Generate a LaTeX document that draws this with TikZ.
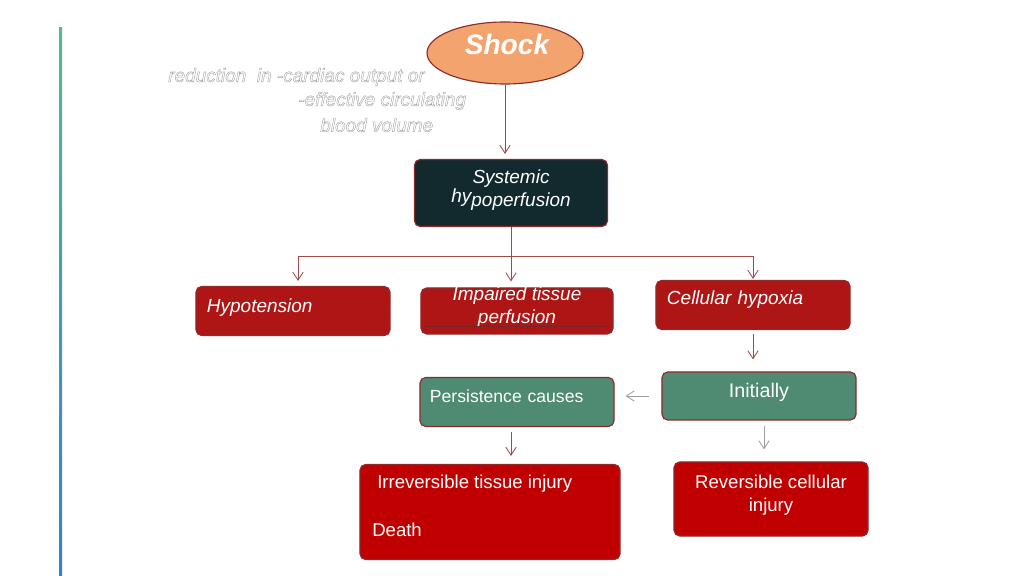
\documentclass[tikz,border=0pt]{standalone}
\usepackage{fontspec}
\setmainfont{Liberation Sans}
\usepackage{xcolor}
\usetikzlibrary{shapes.geometric, arrows.meta, positioning, calc}

\definecolor{shockorange}{HTML}{F3A36E}
\definecolor{boxedge}{HTML}{8E2A2A}
\definecolor{darkteal}{HTML}{122A2E}
\definecolor{toprow}{HTML}{AE1616}
\definecolor{deepred}{HTML}{C00000}
\definecolor{sage}{HTML}{4F8A72}
\definecolor{linkred}{HTML}{9E4A4A}
\definecolor{bargreen}{HTML}{52BC93}
\definecolor{barblue}{HTML}{3B7EC6}

\newcommand{\outlinetext}[1]{\special{pdf:literal direct 1 Tr 0.3 w 0.64 G}#1\special{pdf:literal direct 0 Tr}}

\begin{document}
\begin{tikzpicture}[
    x=0.025cm, y=-0.025cm,
    box/.style={rectangle, draw=boxedge, thick, rounded corners=4pt, text=white, inner sep=0pt},
    boxtext/.style={text=white, inner sep=0pt},
    itfont/.style={font=\fontsize{13.5}{16.3}\selectfont\itshape},
    upfont/.style={font=\fontsize{13.2}{16.3}\selectfont},
    note/.style={anchor=west, inner sep=0pt, font=\fontsize{13.5}{16}\selectfont\itshape},
    line/.style={-{Straight Barb[length=2mm, width=2.6mm]}, linkred, semithick},
    greyline/.style={-{Straight Barb[length=2mm, width=2.6mm]}, black!38, semithick}
]
\useasboundingbox (0,0) rectangle (1024,576);

% Side bar
\shade[top color=bargreen, bottom color=barblue] (59,28) rectangle (62,576);

% Nodes
\node[ellipse, draw=boxedge, thick, fill=shockorange, minimum width=3.9cm, minimum height=1.55cm] (shock) at (505,53) {};
\node[text=white, font=\fontsize{20}{22}\selectfont\bfseries\itshape] (shocktxt) at (507,44) {Shock};

\node[note] (cause1) at (168,77) {\outlinetext{reduction\ \ in -cardiac output or}};
\node[note] (cause2) at (298,101) {\outlinetext{-effective circulating}};
\node[note] (cause3) at (320,125) {\outlinetext{blood volume}};

\node[box, fill=darkteal, minimum width=4.825cm, minimum height=1.675cm] (sys) at (511,193) {};
\node[boxtext, itfont, align=center] (systxt) at (511,190.5) {Systemic\\\raisebox{3pt}{hy}poperfusion};

\node[box, fill=toprow, itfont, minimum width=4.85cm, minimum height=1.225cm, text width=4.3cm, align=left, text height=9.5pt, text depth=8pt] (hypo) at (293,311) {Hypotension};
\node[box, fill=toprow, minimum width=4.8cm, minimum height=1.15cm] (imp) at (517,311) {};
\node[boxtext, itfont, align=center] (imptxt) at (517,307) {Impaired tissue\\perfusion};
\node[box, fill=toprow, itfont, minimum width=4.85cm, minimum height=1.225cm, text width=4.3cm, align=left, text height=9.5pt, text depth=10.5pt] (cell) at (753,305) {Cellular hypoxia};

\node[box, fill=sage, font=\fontsize{14}{16}\selectfont, minimum width=4.85cm, minimum height=1.2cm, text height=9.5pt, text depth=8pt] (init) at (759,396) {Initially};
\node[box, fill=sage, font=\fontsize{12.5}{15}\selectfont, minimum width=4.85cm, minimum height=1.225cm, text width=4.35cm, align=left, text height=9.5pt, text depth=9pt] (pers) at (517,402) {Persistence causes};

\node[box, fill=deepred, minimum width=6.5cm, minimum height=2.375cm] (irr) at (490,512) {};
\node[boxtext, upfont, anchor=west] (irrtxt) at (377,484) {Irreversible tissue injury};
\node[boxtext, upfont, anchor=west] (deathtxt) at (372,530) {Death};
\node[box, fill=deepred, minimum width=4.85cm, minimum height=1.85cm] (rev) at (771,499) {};
\node[boxtext, upfont, align=center] (revtxt) at (771,495) {Reversible cellular\\injury};

% Connections
\coordinate (split) at (511,256);
\draw[line] (shock.south) -- ([yshift=0.125cm]shock.south |- sys.north);
\draw[linkred, semithick] (sys.south) -- (split);
\draw[linkred, semithick] ([xshift=0.125cm]hypo.north |- split) -- (cell.north |- split);
\draw[line] ([xshift=0.125cm]hypo.north |- split) -- ([xshift=0.125cm, yshift=0.125cm]hypo.north);
\draw[line] (split) -- ([yshift=0.15cm]split |- imp.north);
\draw[line] (cell.north |- split) -- ([yshift=0.025cm]cell.north);
\draw[boxedge!85!black, thick] ($(imp.south west)+(4,-8)$) -- ($(imp.south east)+(-8,-8)$);
\draw[line, shorten <=0.1cm] (cell.south) -- ([yshift=0.3cm]cell.south |- init.north);
\draw[greyline, shorten <=0.3cm] (init.west) -- ([xshift=0.275cm]init.west -| pers.east);
\draw[line, shorten <=0.125cm] ([xshift=-0.15cm]pers.south) -- ([xshift=-0.15cm, yshift=0.2cm]pers.south |- irr.north);
\draw[greyline, shorten <=0.125cm] ([xshift=0.125cm]init.south) -- ([xshift=0.125cm, yshift=0.3cm]init.south |- rev.north);

\end{tikzpicture}
\end{document}
